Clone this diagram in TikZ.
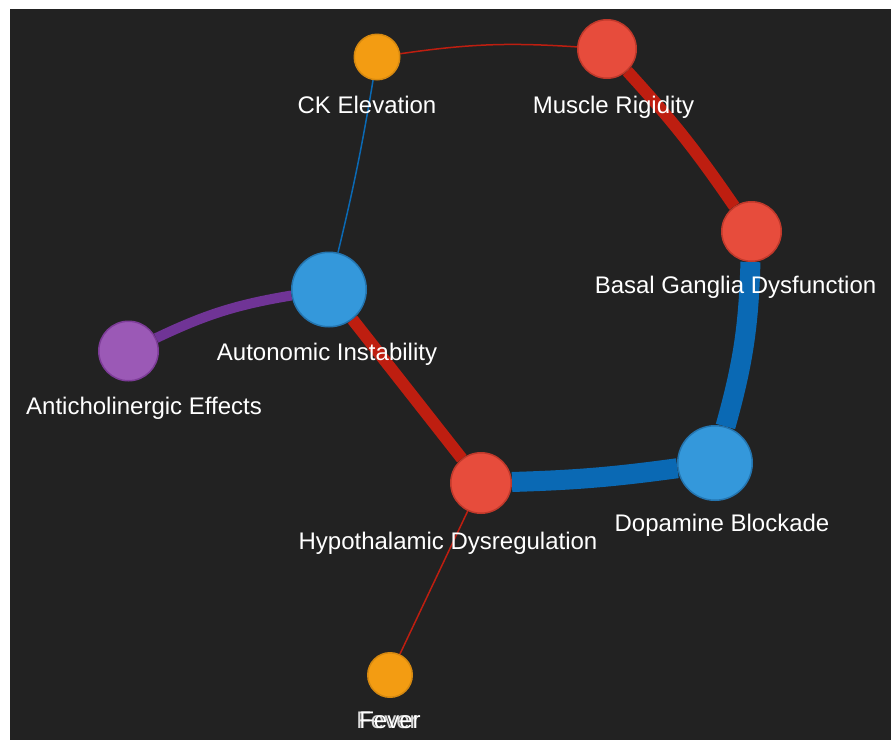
\documentclass[tikz,border=0pt]{standalone}
\usepackage{fontspec}
\setmainfont{Liberation Sans}
\pgfdeclarelayer{bg}
\pgfsetlayers{bg,main}
\definecolor{bgc}{HTML}{222222}
\definecolor{redfill}{HTML}{E74C3C}
\definecolor{redline}{HTML}{C0392B}
\definecolor{bluefill}{HTML}{3498DB}
\definecolor{blueline}{HTML}{2475B0}
\definecolor{orfill}{HTML}{F39C12}
\definecolor{orline}{HTML}{D68910}
\definecolor{pufill}{HTML}{9B59B6}
\definecolor{puline}{HTML}{7D3C98}
\definecolor{redge}{HTML}{BE1E10}
\definecolor{bedge}{HTML}{0A69B4}
\definecolor{pedge}{HTML}{703496}
\begin{document}
\begin{tikzpicture}[x=1pt,y=-1pt,
  nd/.style={circle,inner sep=0pt,minimum size=#1,line width=1.5pt},
  rednode/.style={nd=#1,fill=redfill,draw=redline},
  bluenode/.style={nd=#1,fill=bluefill,draw=blueline},
  ornode/.style={nd=#1,fill=orfill,draw=orline},
  punode/.style={nd=#1,fill=pufill,draw=puline},
  lbl/.style={anchor=base,text=white,inner sep=0pt,font=\fontsize{24pt}{28pt}\selectfont},
  rlink/.style={draw=redge,line width=#1},
  blink/.style={draw=bedge,line width=#1},
  plink/.style={draw=pedge,line width=#1}]
\useasboundingbox (0,0) rectangle (891,740);
\begin{pgfonlayer}{bg}
\fill[bgc] (10,9) rectangle (891,740);
\end{pgfonlayer}
% nodes
\node[ornode=45.5] (ck) at (377,57) {};
\node[rednode=58.5] (mr) at (607,49) {};
\node[rednode=59.5] (bgd) at (751.5,231.5) {};
\node[bluenode=74.5] (db) at (715,463) {};
\node[rednode=60.5] (hd) at (481,483) {};
\node[bluenode=74.5] (ai) at (329,289.5) {};
\node[punode=59.5] (ae) at (128.5,351) {};
\node[ornode=44.5] (fe) at (390,675) {};
% links
\begin{pgfonlayer}{bg}
\draw[rlink=1.5pt] (ck) to[bend left=6] (mr);
\draw[blink=1.5pt] (ck) to[bend left=2] (ai);
\draw[rlink=12pt] (mr) to[bend left=4] (bgd);
\draw[blink=20pt] (bgd) to[bend left=7] (db);
\draw[blink=20pt] (db) to[bend left=3] (hd);
\draw[rlink=12pt] (hd) to (ai);
\draw[plink=10pt] (ai) to[bend right=8] (ae);
\draw[rlink=1.5pt] (hd) to (fe);
\end{pgfonlayer}
% labels
\node[lbl] (lck) at (367,113) {CK Elevation};
\node[lbl] (lmr) at (613.5,113) {Muscle Rigidity};
\node[lbl] (lbgd) at (735.5,293) {Basal Ganglia Dysfunction};
\node[lbl] (ldb) at (722,531) {Dopamine Blockade};
\node[lbl] (lhd) at (448,549) {Hypothalamic Dysregulation};
\node[lbl] (lai) at (327,360) {Autonomic Instability};
\node[lbl] (lae) at (144,414) {Anticholinergic Effects};
\node[lbl,text=white!85!black] (lfe1) at (387,728) {Fever};
\node[lbl] (lfe2) at (390,728) {Fever};
\end{tikzpicture}
\end{document}
